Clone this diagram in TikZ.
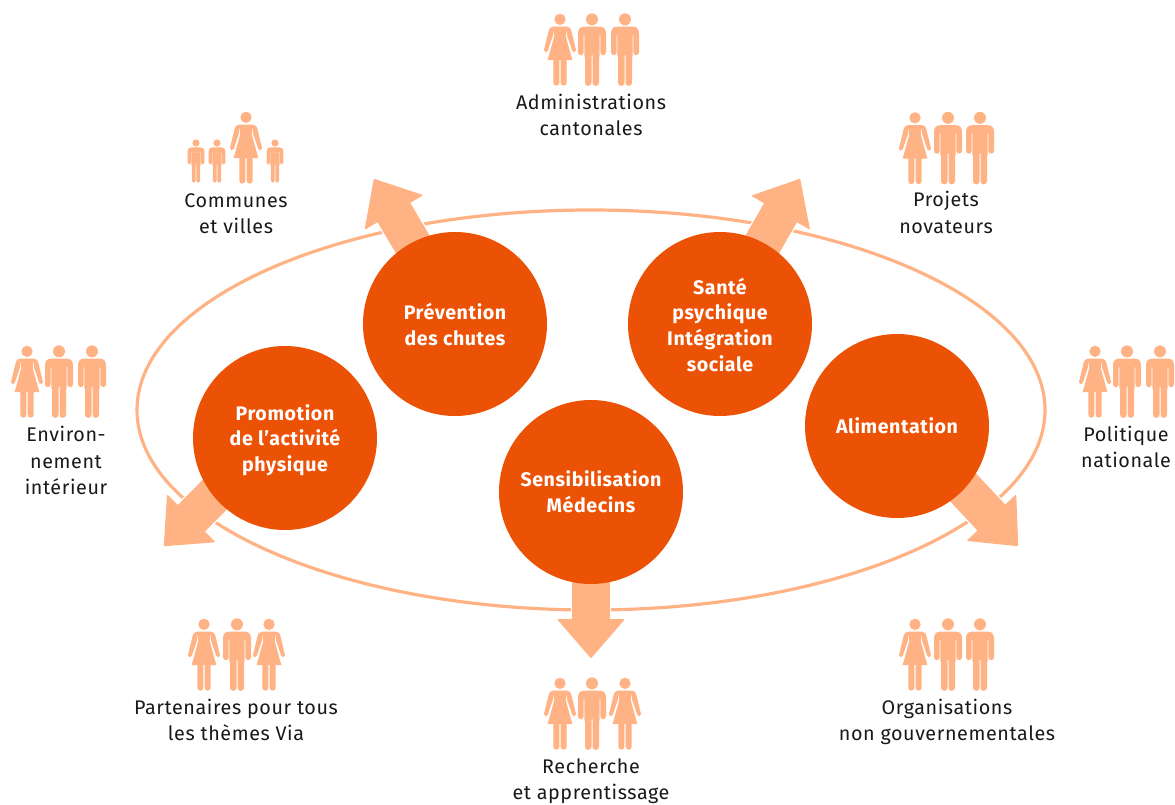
\documentclass[tikz,border=0pt]{standalone}
\usepackage{fontspec}
\setmainfont{Fira Sans}[LetterSpace=3]
\usetikzlibrary{arrows.meta,backgrounds}
\definecolor{darkorange}{HTML}{EC5205}
\definecolor{lightorange}{HTML}{FFB385}
\tikzset{
  theme/.style={circle, fill=darkorange, text=white, minimum size=138pt, inner sep=0pt, align=center, font=\fontsize{14.7}{19.3}\selectfont\bfseries},
  label/.style={align=center, text=black!90, font=\fontsize{14.8}{19.7}\selectfont},
  bigarrow/.style={draw=lightorange, line width=28.5pt, -{Triangle[round,line width=1pt,length=29.5pt,width=51pt,fill=lightorange]}, shorten <=-8pt,
    preaction={draw=white, line width=30.5pt, -, shorten >=30pt}},
  man/.pic={
    \fill[lightorange] (0,58) circle[radius=18];
    \fill[lightorange] (-24,80) -- (24,80) .. controls (36,80) and (42,88) .. (42,100) -- (42,157) arc[start angle=0,end angle=180,radius=8.5] -- (25,106) -- (-25,106) -- (-25,157) arc[start angle=0,end angle=180,radius=8.5] -- (-42,100) .. controls (-42,88) and (-36,80) .. (-24,80) -- cycle;
    \fill[lightorange] (-23,105) -- (23,105) -- (23,170) -- (21,170) -- (21,248) arc[start angle=0,end angle=180,radius=9.75] -- (1.5,165) -- (-1.5,165) -- (-1.5,248) arc[start angle=0,end angle=180,radius=9.75] -- (-21,170) -- (-23,170) -- cycle;
  },
  woman/.pic={
    \fill[lightorange] (0,58) circle[radius=17];
    \fill[lightorange] (-22,80) -- (22,80) -- (17,108) -- (37,180) -- (-37,180) -- (-17,108) -- cycle;
    \fill[lightorange] (-21,80) .. controls (-30,81) and (-32,86) .. (-34,92) -- (-48,150) arc[start angle=194,end angle=14,radius=5.7] -- (-21,106) -- cycle;
    \fill[lightorange] (21,80) .. controls (30,81) and (32,86) .. (34,92) -- (48,150) arc[start angle=-14,end angle=166,radius=5.7] -- (21,106) -- cycle;
    \fill[lightorange] (-20,178) -- (-2,178) -- (-2,248) arc[start angle=0,end angle=180,radius=9] -- cycle;
    \fill[lightorange] (2,178) -- (20,178) -- (20,248) arc[start angle=0,end angle=180,radius=9] -- cycle;
  }
}

\begin{document}
\begin{tikzpicture}[x=0.75pt,y=-0.75pt]
  \useasboundingbox (0,0) rectangle (1175,804);

  \node[theme] (chutes) at (455,324) {\rule{0pt}{13.5pt}Prévention\\des chutes};
  \node[theme] (sante) at (720,324) {\rule{0pt}{13.5pt}Santé\\psychique\\Intégration\\sociale};
  \node[theme] (promotion) at (285,438) {\rule{0pt}{15pt}Promotion\\de l’activité\\physique};
  \node[theme] (medecins) at (591,492) {Sensibilisation\\Médecins};
  \node[theme] (alimentation) at (897,426) {Alimentation};

  \coordinate (tipChutes) at (374,179);
  \coordinate (tipSante) at (800,179);
  \coordinate (tipPromotion) at (164,546);
  \coordinate (tipMedecins) at (591,658);
  \coordinate (tipAlimentation) at (1018,546);

  \begin{scope}[on background layer]
    \draw[lightorange, line width=2.4pt] (591,410) ellipse[x radius=454, y radius=200];
    \draw[bigarrow] (chutes.118) -- (tipChutes);
    \draw[bigarrow] (sante.62) -- (tipSante);
    \draw[bigarrow] (promotion.219) -- (tipPromotion);
    \draw[bigarrow] (medecins.south) -- (tipMedecins);
    \draw[bigarrow] (alimentation.-43) -- (tipAlimentation);
  \end{scope}

  % top
  \pic[scale=1/3] at (560,0) {woman};
  \pic[scale=1/3] at (592,0) {man};
  \pic[scale=1/3] at (625,0) {man};
  \node[label] (admin) at (591,115) {Administrations\\cantonales};

  % communes
  \pic[scale=1/5] at (196,131.4) {man};
  \pic[scale=1/5] at (217,131.4) {man};
  \pic[scale=1/3] at (246,98) {woman};
  \pic[scale=1/5] at (275,131.4) {man};
  \node[label] (communes) at (236,213.5) {Communes\\et villes};

  % projets
  \pic[scale=1/3] at (915,98.5) {woman};
  \pic[scale=1/3] at (948,98.5) {man};
  \pic[scale=1/3] at (980,98.5) {man};
  \node[label] (projets) at (946,212.5) {Projets\\novateurs};

  % environnement
  \pic[scale=1/3] at (27,332) {woman};
  \pic[scale=1/3] at (59,332) {man};
  \pic[scale=1/3] at (92,332) {man};
  \node[label] (environ) at (66,460.5) {Environ-\\nement\\intérieur};

  % politique
  \pic[scale=1/3] at (1095,332) {woman};
  \pic[scale=1/3] at (1127,332) {man};
  \pic[scale=1/3] at (1160,332) {man};
  \node[label] (politique) at (1126,447) {Politique\\nationale};

  % partenaires
  \pic[scale=1/3] at (204,605) {woman};
  \pic[scale=1/3] at (237,605) {man};
  \pic[scale=1/3] at (269,605) {woman};
  \node[label] (partenaires) at (236,720) {Partenaires pour tous\\les thèmes Via};

  % recherche
  \pic[scale=1/3] at (560,664) {woman};
  \pic[scale=1/3] at (592,664) {man};
  \pic[scale=1/3] at (625,664) {woman};
  \node[label] (recherche) at (591,781) {Recherche\\et apprentissage};

  % organisations
  \pic[scale=1/3] at (915,605) {woman};
  \pic[scale=1/3] at (948,605) {man};
  \pic[scale=1/3] at (980,605) {man};
  \node[label] (organisations) at (947,722) {Organisations\\non gouvernementales};
\end{tikzpicture}
\end{document}
